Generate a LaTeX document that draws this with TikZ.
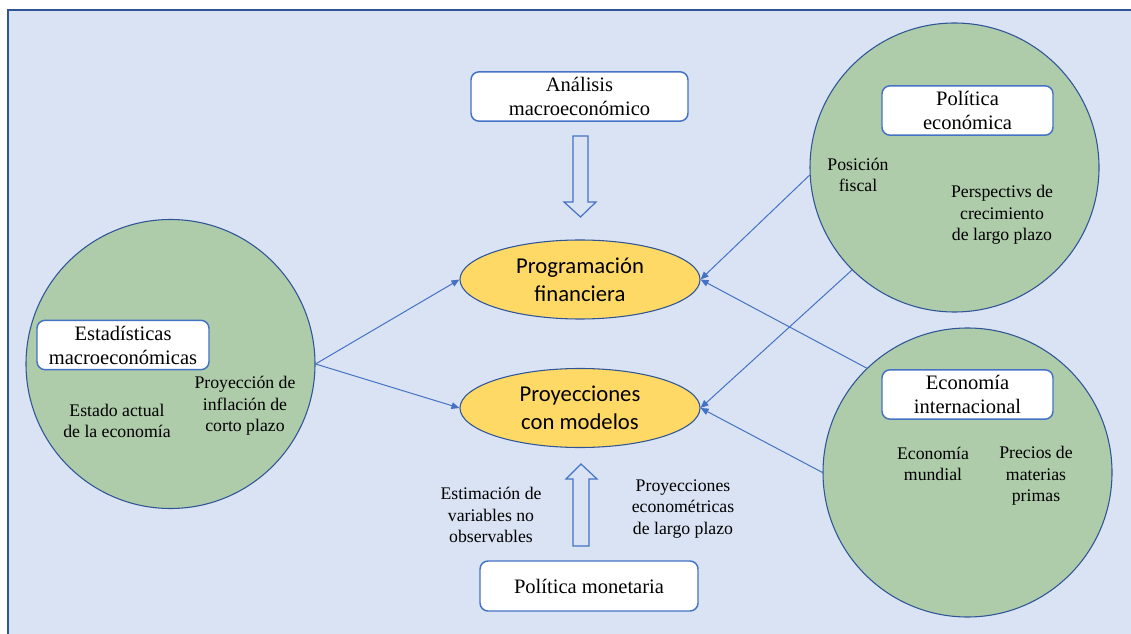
\documentclass[tikz,border=0pt]{standalone}
\usepackage{fontspec}
\setmainfont{Liberation Serif}
\newfontfamily\calib{Carlito}
\usetikzlibrary{shapes.geometric,arrows.meta}
\definecolor{bgblue}{HTML}{DAE3F3}
\definecolor{frameblue}{HTML}{2F5597}
\definecolor{accblue}{HTML}{4472C4}
\definecolor{circgreen}{HTML}{AECBAA}
\definecolor{ellyellow}{HTML}{FFD966}
\tikzset{
  bigcirc/.style={circle, draw=frameblue, line width=0.8pt, fill=circgreen, minimum size=216.75pt, inner sep=0pt},
  ellnode/.style={ellipse, draw=frameblue, line width=0.8pt, fill=ellyellow, minimum width=180pt, minimum height=59.25pt, inner sep=0pt, align=center, font=\calib\fontsize{17}{21}\selectfont},
  titlebox/.style={rectangle, rounded corners=6pt, draw=accblue, line width=1.1pt, fill=white, minimum height=37pt, inner sep=0pt, align=center, font=\fontsize{15.4}{18}\selectfont},
  lbl/.style={align=center, inner sep=0pt, font=\fontsize{13.3}{16}\selectfont},
  conn/.style={draw=accblue, line width=0.75pt, -{Triangle[length=6pt,width=5pt]}},
  blockarrow/.style={draw=accblue, line width=0.9pt, fill=bgblue, line join=miter}
}
\begin{document}
\begin{tikzpicture}[x=0.75pt,y=-0.75pt]
\useasboundingbox (0,0) rectangle (1131,634);
\clip (0,0) rectangle (1131,634);
\fill[white] (0,0) rectangle (1131,634);
\filldraw[fill=bgblue, draw=frameblue, line width=1.2pt] (8,10) rectangle (1145,650);

% circles
\node[bigcirc] (lc) at (170.5,364) {};
\node[bigcirc] (tc) at (954.5,167.5) {};
\node[bigcirc] (bc) at (967.5,472.5) {};

% ellipses
\node[ellnode] (pf) at (580,279.5) {Programación\\financiera};
\node[ellnode] (pm) at (580,408) {Proyecciones\\con modelos};

% title boxes
\node[titlebox, minimum width=162.75pt] (am) at (579.5,96.5) {Análisis\\macroeconómico};
\node[titlebox, minimum width=163.5pt, minimum height=37.5pt] (pmon) at (589,586) {Política monetaria};
\node[titlebox, minimum width=129pt] (em) at (123,345) {Estadísticas\\macroeconómicas};
\node[titlebox, minimum width=128.25pt] (pe) at (967.5,110.5) {Política\\económica};
\node[titlebox, minimum width=128.25pt] (ei) at (967.5,394.5) {Economía\\internacional};

% labels
\node[lbl] (ea) at (117,421) {Estado actual\\de la economía};
\node[lbl] (pi) at (245,406) {Proyección de\\inflación de\\corto plazo};
\node[lbl] (pfis) at (858,175) {Posición\\fiscal};
\node[lbl] (pc) at (1002,215) {Perspectivs de\\crecimiento\\de largo plazo};
\node[lbl] (emu) at (933,464) {Economía\\mundial};
\node[lbl] (pmp) at (1036,476) {Precios de\\materias\\primas};
\node[lbl] (evo) at (491,515) {Estimación de\\variables no\\observables};
\node[lbl] (pel) at (683,509) {Proyecciones\\econométricas\\de largo plazo};

% block arrows
\draw[blockarrow] (573,136) -- (588,136) -- (588,202) -- (596,202) -- (580.5,217) -- (564,202) -- (573,202) -- cycle;
\draw[blockarrow] (573,546) -- (589,546) -- (589,479) -- (597,479) -- (581,464) -- (566,479) -- (573,479) -- cycle;

% connectors
\draw[conn] (lc.east) -- (pf.west);
\draw[conn] (lc.east) -- (pm.west);
\draw[conn] (tc.183) -- (pf.east);
\draw[conn] (tc.225) -- (pm.east);
\draw[conn] (bc.134) -- (pf.east);
\draw[conn] (bc.west) -- (pm.east);
\end{tikzpicture}
\end{document}
